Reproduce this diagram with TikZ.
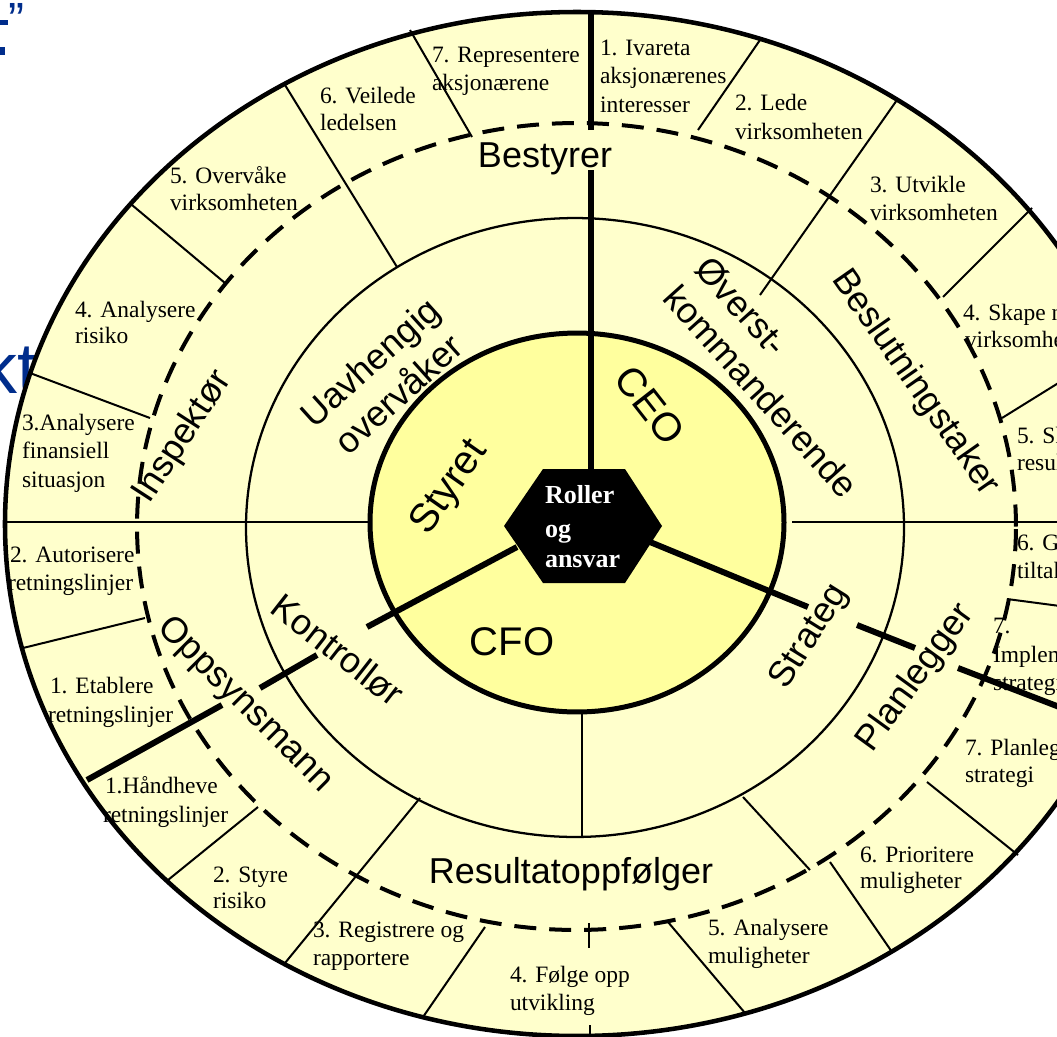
\documentclass[tikz,border=0pt]{standalone}
\usepackage{fontspec}
\setmainfont{Liberation Serif}
\newfontfamily\lsans{Liberation Sans}
\definecolor{ringfill}{HTML}{FFFFCC}
\definecolor{corefill}{HTML}{FFFF9E}
\definecolor{slideblue}{RGB}{0,45,140}
\newcommand\txtline[4]{\node[smalltxt] (#1) at (#2,#3) {#4};}
\begin{document}
\begin{tikzpicture}[x=0.75pt,y=-0.75pt,
  every node/.style={inner sep=0pt,outer sep=0pt},
  thinln/.style={line width=1.5pt},
  spoke/.style={line width=4.5pt},
  smalltxt/.style={font=\fontsize{17.6}{21}\selectfont,anchor=base west},
  biglbl/.style={font=\lsans\fontsize{27}{32}\selectfont,align=center},
  innerlbl/.style={font=\lsans\fontsize{30}{34}\selectfont},
  fragtxt/.style={font=\lsans\fontsize{54}{60}\selectfont,text=slideblue,anchor=base west}]
\useasboundingbox (0,0) rectangle (1057,1036);
\clip (0,0) rectangle (1057,1036);
% slide fragments behind the wheel
\node[fragtxt] (frag1) at (-18,393) {kt};
\node[fragtxt,font=\lsans\fontsize{36}{40}\selectfont] (frag2) at (8,36) {”};
\fill[slideblue] (0,20) rectangle (8,25);
\fill[slideblue] (0,47) rectangle (5,55);
% fills
\fill[ringfill] (577,524) ellipse [x radius=429pt, y radius=384pt];
\fill[corefill] (577,522.5) ellipse [x radius=155.25pt, y radius=142.1pt];
% thin dividing lines
\draw[thinln] (410,30) -- (472,137);
\draw[thinln] (285,85) -- (397,267);
\draw[thinln] (132,205) -- (225,283);
\draw[thinln] (30,373) -- (150,418);
\draw[thinln] (5,522) -- (370,522);
\draw[thinln] (23,648) -- (145,618);
\draw[thinln] (168,880) -- (258,807);
\draw[thinln] (285,963) -- (420,798);
\draw[thinln] (423,1017) -- (485,927);
\draw[thinln] (589,923) -- (589,948);
\draw[thinln] (590,1025) -- (590,1040);
\draw[thinln] (668,922) -- (745,1013);
\draw[thinln] (743,797) -- (810,870);
\draw[thinln] (830,862) -- (892,952);
\draw[thinln] (927,782) -- (1018,855);
\draw[thinln] (1007,599) -- (1060,606);
\draw[thinln] (792,522) -- (1060,522);
\draw[thinln] (1002,418) -- (1060,382);
\draw[thinln] (1032,208) -- (943,297);
\draw[thinln] (897,100) -- (760,295);
\draw[thinln] (760,40) -- (698,130);
\draw[thinln] (582,712) -- (582,837);
% ellipses
\draw[line width=3pt,dash pattern=on 16.5pt off 9.75pt] (576.5,526.5) ellipse [x radius=329.6pt, y radius=302.6pt];
\draw[line width=1.7pt] (575,527.5) ellipse [x radius=246.75pt, y radius=232.1pt];
\draw[line width=3.75pt] (577,522.5) ellipse [x radius=155.25pt, y radius=142.1pt];
\draw[line width=3.4pt] (577,524) ellipse [x radius=429pt, y radius=384pt];
% spokes
\draw[spoke] (591,469) -- (591,170);
\draw[spoke] (591,130) -- (591,10);
\draw[spoke] (517,547) -- (367,627);
\draw[spoke] (317,655) -- (260,688);
\draw[spoke] (222,705) -- (87,780);
\draw[spoke] (650,542) -- (808,607);
\draw[spoke] (857,625) -- (915,648);
\draw[spoke] (958,668) -- (1062,708);
% hexagon
\fill (543,469) -- (625,469) -- (662,526) -- (625,583) -- (543,583) -- (504,526) -- cycle;
\node[font=\bfseries\fontsize{19.5}{24}\selectfont,text=white,anchor=base west] (rol1) at (545,503) {Roller};
\node[font=\bfseries\fontsize{19.5}{24}\selectfont,text=white,anchor=base west] (rol2) at (545,537) {og};
\node[font=\bfseries\fontsize{19.5}{24}\selectfont,text=white,anchor=base west] (rol3) at (545,567) {ansvar};
% inner labels
\node[innerlbl,rotate=55] (styret) at (450,488) {Styret};
\node[innerlbl,rotate=-52] (ceo) at (650,405) {CEO};
\node[innerlbl,anchor=base] (cfo) at (512,655) {CFO};
% ring labels
\node[biglbl,rotate=42] (uavh) at (384,378) {Uavhengig\\overvåker};
\node[biglbl,align=left,rotate=-48] (overst) at (777,377) {Øverst-\\kommanderende};
\node[biglbl,rotate=-38] (kontr) at (338,650) {Kontrollør};
\node[biglbl,rotate=58] (strateg) at (810,637) {Strateg};
\node[biglbl,anchor=base] (bestyrer) at (545,167) {Bestyrer};
\node[biglbl,rotate=-55] (beslut) at (915,383) {Beslutningstaker};
\node[biglbl,rotate=54] (planl) at (916,678) {Planlegger};
\node[biglbl,anchor=base] (result) at (571,883) {Resultatoppfølger};
\node[biglbl,rotate=-45] (oppsyn) at (245,705) {Oppsynsmann};
\node[biglbl,rotate=57] (inspekt) at (183,437) {Inspektør};
% outer ring texts
\txtline{a1}{432}{62}{7. Representere}
\txtline{a2}{432}{90}{aksjonærene}
\txtline{b1}{600}{55}{1. Ivareta}
\txtline{b2}{600}{83}{aksjonærenes}
\txtline{b3}{600}{112}{interesser}
\txtline{c1}{735}{110}{2. Lede}
\txtline{c2}{735}{139}{virksomheten}
\txtline{d1}{870}{192}{3. Utvikle}
\txtline{d2}{870}{220}{virksomheten}
\txtline{e1}{963}{320}{4. Skape ny}
\txtline{e2}{965}{347}{virksomhet}
\txtline{f1}{1017}{443}{5. Skape}
\txtline{f2}{1017}{470}{resultater}
\txtline{g1}{1017}{550}{6. Gjennomføre}
\txtline{g2}{1017}{578}{tiltak}
\txtline{h1}{993}{633}{7.}
\txtline{h2}{993}{662}{Implementere}
\txtline{h3}{993}{690}{strategi}
\txtline{i1}{965}{755}{7. Planlegge}
\txtline{i2}{965}{782}{strategi}
\txtline{j1}{860}{862}{6. Prioritere}
\txtline{j2}{860}{888}{muligheter}
\txtline{k1}{708}{935}{5. Analysere}
\txtline{k2}{708}{963}{muligheter}
\txtline{l1}{510}{982}{4. Følge opp}
\txtline{l2}{510}{1010}{utvikling}
\txtline{m1}{313}{937}{3. Registrere og}
\txtline{m2}{313}{965}{rapportere}
\txtline{n1}{213}{882}{2. Styre}
\txtline{n2}{213}{908}{risiko}
\txtline{o1}{105}{793}{1.Håndheve}
\txtline{o2}{103}{822}{retningslinjer}
\txtline{p1}{50}{693}{1. Etablere}
\txtline{p2}{48}{722}{retningslinjer}
\txtline{q1}{10}{562}{2. Autorisere}
\txtline{q2}{8}{590}{retningslinjer}
\txtline{r1}{22}{430}{3.Analysere}
\txtline{r2}{22}{458}{finansiell}
\txtline{r3}{22}{487}{situasjon}
\txtline{s1}{75}{317}{4. Analysere}
\txtline{s2}{75}{343}{risiko}
\txtline{u1}{170}{183}{5. Overvåke}
\txtline{u2}{170}{210}{virksomheten}
\txtline{v1}{320}{103}{6. Veilede}
\txtline{v2}{320}{130}{ledelsen}
\end{tikzpicture}
\end{document}
